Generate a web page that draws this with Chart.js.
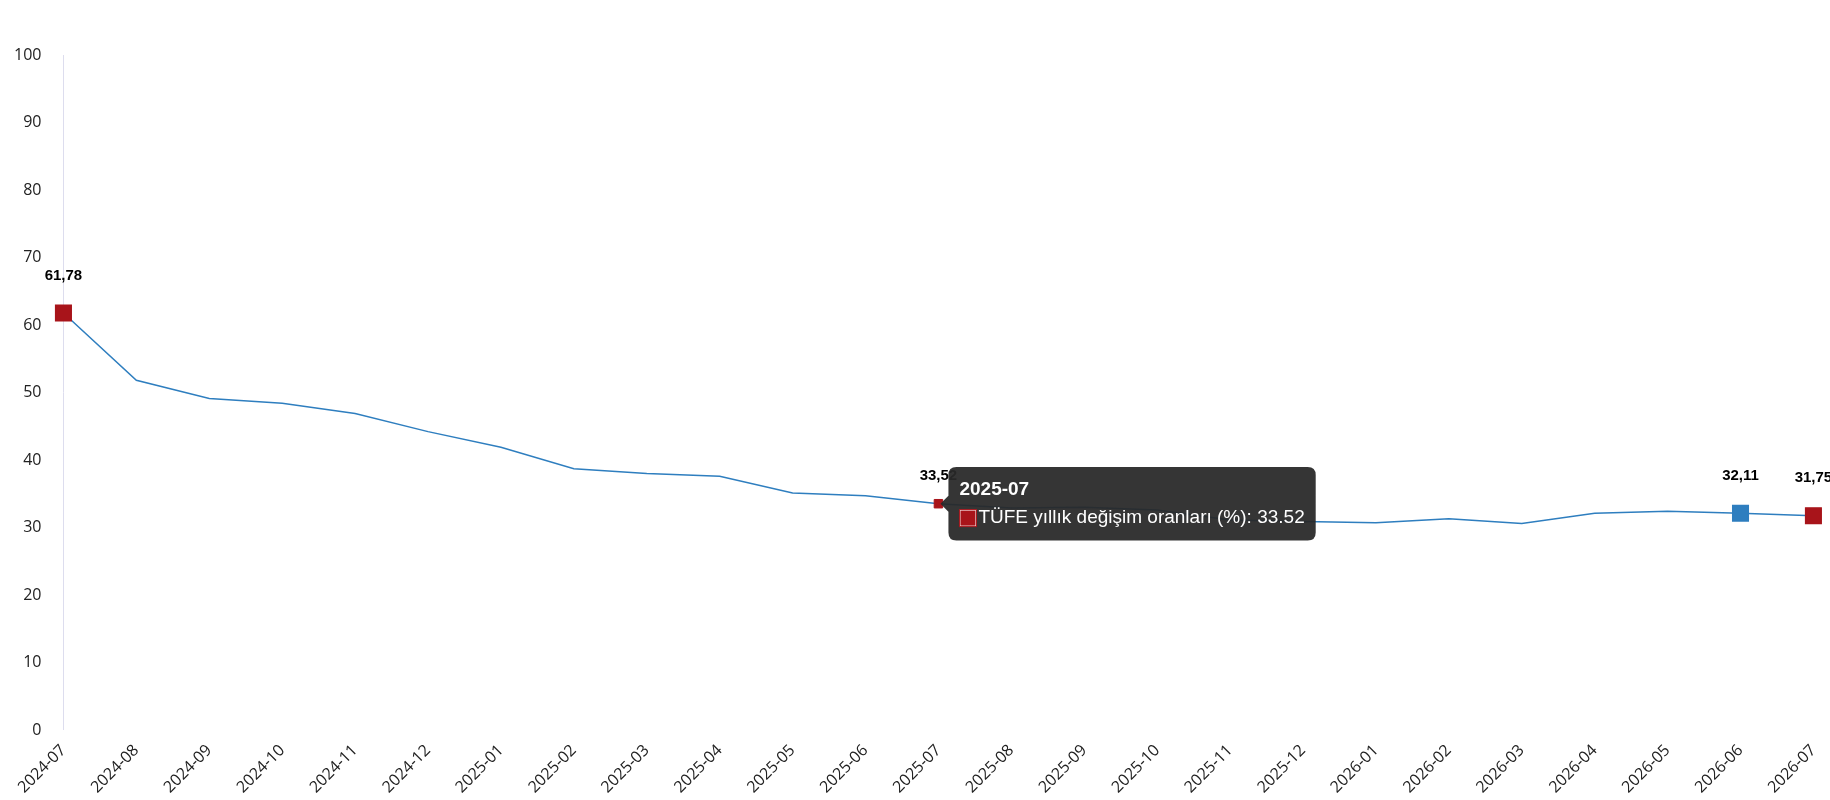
<!DOCTYPE html>
<html><head><meta charset="utf-8">
<script src="https://cdn.jsdelivr.net/npm/chart.js@4"></script>
<style>html,body{margin:0;padding:0;background:#fff}#w{width:1830px;height:800px}</style>
</head><body><div id="w"><canvas id="c"></canvas></div>
<script>
const categories=["2024-07","2024-08","2024-09","2024-10","2024-11","2024-12","2025-01","2025-02","2025-03","2025-04","2025-05","2025-06","2025-07","2025-08","2025-09","2025-10","2025-11","2025-12","2026-01","2026-02","2026-03","2026-04","2026-05","2026-06","2026-07"];
const tufe=[61.78,51.8,49.1,48.4,46.9,44.2,41.9,38.7,38.0,37.6,35.1,34.7,33.52,32.9,33.0,32.6,31.1,30.9,30.7,31.3,30.6,32.1,32.4,32.11,31.75];
const labelled={0:"61,78",12:"33,52",23:"32,11",24:"31,75"};
const radii=tufe.map((v,i)=>i===12?6:(i in labelled?11:0));
const colors=tufe.map((v,i)=>i===23?"#2e7ebf":"#a8141a");
const labelPlugin={id:"lbl",afterDatasetsDraw(ch){const ctx=ch.ctx;const m=ch.getDatasetMeta(0);ctx.save();ctx.font="bold 15px 'Liberation Sans'";ctx.fillStyle="#000";ctx.textAlign="center";ctx.textBaseline="bottom";for(const k in labelled){const p=m.data[k];ctx.fillText(labelled[k],p.x,p.y-(k==12?20:30));}ctx.restore();}};
const ch=new Chart(document.getElementById("c"),{type:"line",data:{labels:categories,datasets:[{label:"TÜFE yıllık değişim oranları (%)",data:tufe,borderColor:"#2e7ebf",borderWidth:1.5,tension:0,pointStyle:"rect",pointRadius:radii,pointHoverRadius:radii,pointBackgroundColor:colors,pointBorderColor:colors,pointHoverBackgroundColor:colors,pointHoverBorderColor:colors}]},
options:{responsive:true,maintainAspectRatio:false,animation:false,layout:{padding:{top:55,right:10,left:0,bottom:0}},
plugins:{legend:{display:false},tooltip:{enabled:true,backgroundColor:"rgba(40,40,40,0.94)",titleFont:{size:19,weight:"bold",family:"Liberation Sans"},bodyFont:{size:19,family:"Liberation Sans"},padding:11,cornerRadius:8,caretSize:8,boxWidth:17,boxHeight:17,xAlign:"left",yAlign:"center",callbacks:{labelColor:()=>({backgroundColor:"#a8141a",borderColor:"#a8141a"})}}},
scales:{x:{offset:false,grid:{display:false},border:{display:false},ticks:{maxRotation:45,minRotation:45,color:"#222",font:{size:16,family:"Open Sans"}}},
y:{min:0,max:100,ticks:{stepSize:10,color:"#222",font:{size:16,family:"Open Sans"},padding:14},grid:{display:false},border:{display:true,color:"#dde"}}}},plugins:[labelPlugin]});
const p=ch.getDatasetMeta(0).data[12];
ch.tooltip.setActiveElements([{datasetIndex:0,index:12}],{x:p.x,y:p.y});
ch.setActiveElements([{datasetIndex:0,index:12}]);
ch.update();
</script></body></html>
